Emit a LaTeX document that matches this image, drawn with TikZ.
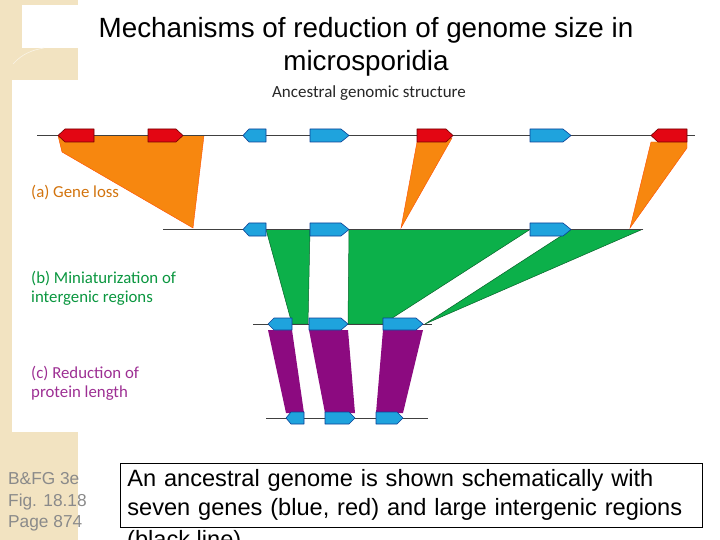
\documentclass[tikz,border=0pt]{standalone}
\usepackage{fontspec}
\setmainfont{Liberation Sans}
\newfontfamily\calibri{Carlito}
\usepackage{xcolor}
\definecolor{beige}{HTML}{F2E3C1}
\definecolor{lossorange}{HTML}{F7870F}
\definecolor{shrinkgreen}{HTML}{0CB04A}
\definecolor{trimpurple}{HTML}{8C0A80}
\definecolor{geneblue}{HTML}{1FA3DD}
\definecolor{genered}{HTML}{E30613}
\definecolor{notegray}{HTML}{8A8A8A}

\begin{document}
\begin{tikzpicture}[x=1pt,y=-1pt,
    genome/.style={draw=black!75, line width=0.8pt},
    bluegene/.style={fill=geneblue, draw=black!60!blue!60!geneblue, line width=0.6pt, line join=round},
    redgene/.style={fill=genered, draw=black!55!red, line width=0.6pt, line join=round},
    loss/.style={fill=lossorange, draw=orange!60!red, line width=0.4pt},
    shrink/.style={fill=shrinkgreen, draw=black!45!shrinkgreen, line width=0.5pt},
    trim/.style={fill=trimpurple},
    rowlabel/.style={font=\calibri\fontsize{16.8}{19}\selectfont, align=left, anchor=west, inner sep=0pt}]
                \useasboundingbox (0,0) rectangle (720,540);
                % slide background
                \fill[beige] (0,0) rectangle (12,540);
                \fill[beige] (0,0) rectangle (78,80);
                \fill[white] (22,5) rectangle (78,48);
                \fill[beige] (0,432) rectangle (78,540);
                \draw[white!60!beige, line width=0.6pt] (13,64) .. controls (22,54) and (32,50) .. (44,48);

                \node[font=\fontsize{27.8}{33}\selectfont, align=center] (title) at (366,47) {Mechanisms of reduction of genome size in\\microsporidia};
                \node[font=\calibri\fontsize{17}{19}\selectfont, text=black!85] (sub) at (369,93) {Ancestral genomic structure};

                % (a) gene loss
                \filldraw[loss] (58,135.5) -- (62,152) -- (193,228) -- (204,135.5) -- cycle;
                \filldraw[loss] (417,142) -- (452,138) -- (401,228) -- cycle;
                \filldraw[loss] (651,142) -- (687,142) -- (687,148) -- (630,228) -- cycle;
                % (b) intergenic regions
                \filldraw[shrink] (266,229.5) -- (310,229.5) -- (308,324) -- (292,324) -- cycle;
                \filldraw[shrink] (349,229.5) -- (530,229.5) -- (383,324) -- (348,324) -- cycle;
                \filldraw[shrink] (571,229.5) -- (642,229.5) -- (425,324) -- cycle;
                % (c) protein length
                \fill[trim] (268,330) -- (292,330) -- (304,413) -- (286,413) -- cycle;
                \fill[trim] (309,330) -- (348,330) -- (355,413) -- (325,413) -- cycle;
                \fill[trim] (383,330) -- (423,330) -- (403,413) -- (376,413) -- cycle;

                \draw[genome] (37,135.5) -- (695,135.5);
                \draw[genome] (163,229.5) -- (643,229.5);
                \draw[genome] (253,324) -- (432,324);
                \draw[genome] (266,418) -- (428,418);

                % ancestral genes
                \draw[redgene] (94,129) -- (65,129) -- (58,135.5) -- (65,142) -- (94,142) -- cycle;
                \draw[redgene] (148,129) -- (176,129) -- (183,135.5) -- (176,142) -- (148,142) -- cycle;
                \draw[bluegene] (266,129) -- (249,129) -- (243,135.5) -- (249,142) -- (266,142) -- cycle;
                \draw[bluegene] (310,129) -- (341,129) -- (349,135.5) -- (341,142) -- (310,142) -- cycle;
                \draw[redgene] (417,129) -- (446,129) -- (453,135.5) -- (446,142) -- (417,142) -- cycle;
                \draw[bluegene] (530,129) -- (563,129) -- (571,135.5) -- (563,142) -- (530,142) -- cycle;
                \draw[redgene] (687,129) -- (658,129) -- (651,135.5) -- (658,142) -- (687,142) -- cycle;
                % after gene loss
                \draw[bluegene] (266,223) -- (249,223) -- (243,229.5) -- (249,236) -- (266,236) -- cycle;
                \draw[bluegene] (310,223) -- (341,223) -- (349,229.5) -- (341,236) -- (310,236) -- cycle;
                \draw[bluegene] (530,223) -- (563,223) -- (571,229.5) -- (563,236) -- (530,236) -- cycle;
                % after miniaturization
                \draw[bluegene] (292,318) -- (274,318) -- (268,324) -- (274,330) -- (292,330) -- cycle;
                \draw[bluegene] (309,318) -- (341,318) -- (348,324) -- (341,330) -- (309,330) -- cycle;
                \draw[bluegene] (383,318) -- (416,318) -- (423,324) -- (416,330) -- (383,330) -- cycle;
                % after protein reduction
                \draw[bluegene] (304,412) -- (291,412) -- (286,418) -- (291,424) -- (304,424) -- cycle;
                \draw[bluegene] (325,412) -- (349,412) -- (355,418) -- (349,424) -- (325,424) -- cycle;
                \draw[bluegene] (376,412) -- (397,412) -- (403,418) -- (397,424) -- (376,424) -- cycle;

                \node[rowlabel, text=lossorange!85!black] (labela) at (31,193) {(a) Gene loss};
                \node[rowlabel, text=shrinkgreen!85!black] (labelb) at (31,288.5) {(b) Miniaturization of\\intergenic regions};
                \node[rowlabel, text=trimpurple!85!white] (labelc) at (31,383.5) {(c) Reduction of\\protein length};

                \node[font=\fontsize{17.3}{21.5}\selectfont, text=notegray, align=left, anchor=west, inner sep=0pt] (cite) at (8,502) {B\&FG 3e\\Fig. 18.18\\Page 874};
                \node[draw, line width=0.7pt, anchor=north west, minimum width=582pt, minimum height=64pt, text width=568pt, inner xsep=7pt, align=left, font=\fontsize{23.6}{29}\selectfont] (note) at (120,463) {An ancestral genome is shown schematically with\\seven genes (blue, red) and large intergenic regions};
                \node[anchor=north west, inner sep=0pt, font=\fontsize{23.6}{29}\selectfont] (more) at ([xshift=7pt,yshift=-2pt]note.south west) {(black line)};
            \end{tikzpicture}
\end{document}
